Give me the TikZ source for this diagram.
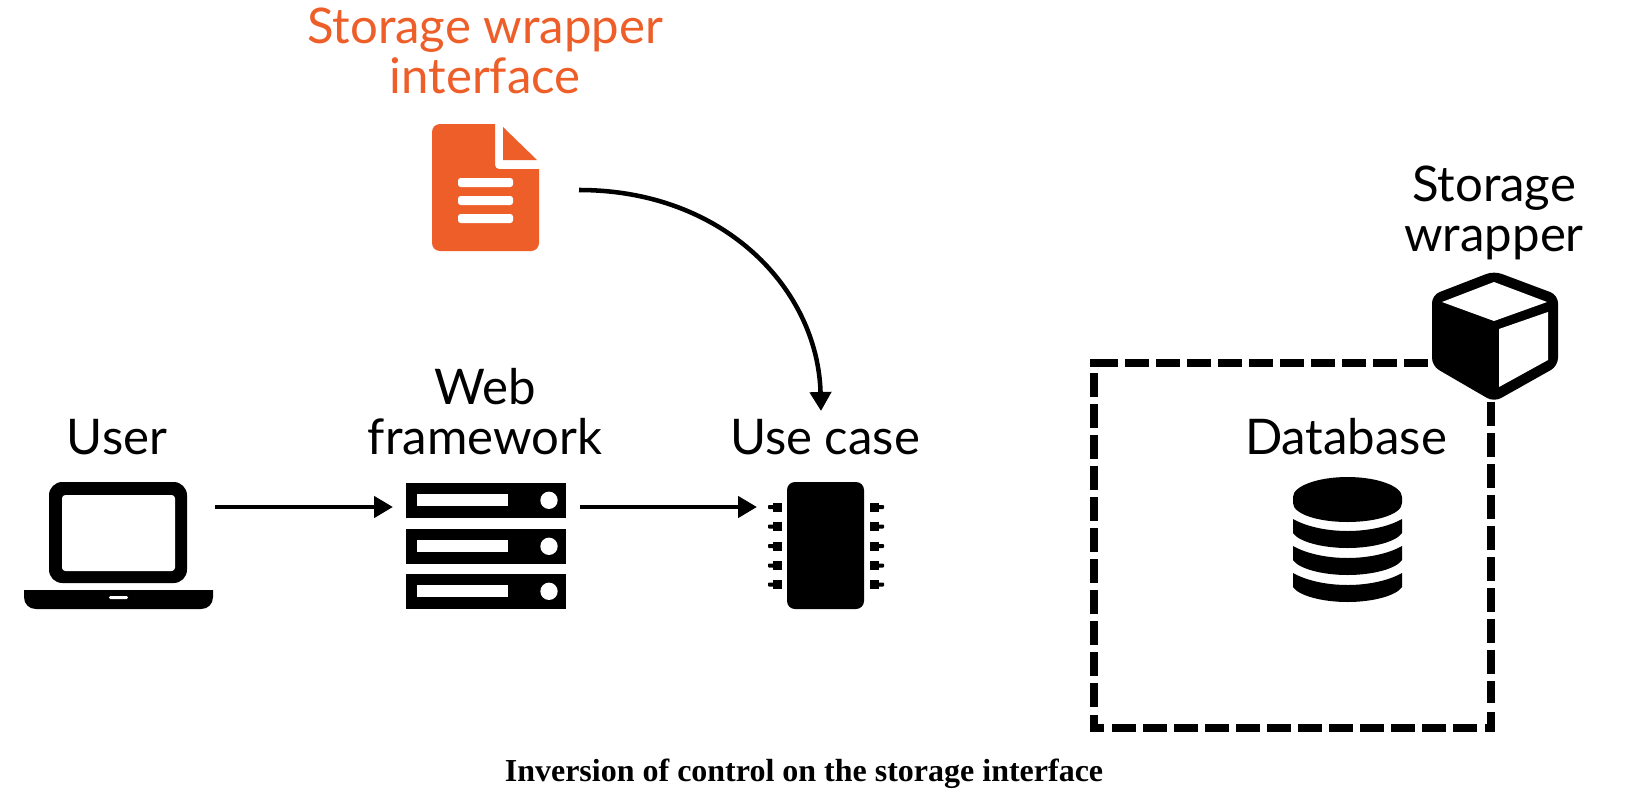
\documentclass[tikz,border=0pt]{standalone}
\usepackage{fontspec}
\setmainfont{Lato}
\newfontfamily\capfont{Liberation Serif}
\usetikzlibrary{arrows.meta}
\definecolor{docorange}{RGB}{238,94,40}
\tikzset{
  px/.style={x=0.75pt,y=-0.75pt},
  label/.style={font=\fontsize{36.85}{37.5}\selectfont,align=center,inner sep=0pt,outer sep=0pt,anchor=base,text=black},
  orangelabel/.style={label,text=docorange},
  iconbox/.style={inner sep=0pt,outer sep=0pt,minimum width=#1},
  arr/.style={line width=3.4pt,-{Triangle[length=14.25pt,width=15.75pt]}},
  dashline/.style={line width=6pt,dash pattern=on 17.625pt off 5.625pt},
  cornerline/.style={line width=6pt,miter limit=10},
}
\begin{document}
\begin{tikzpicture}[px]
\useasboundingbox (0,0) rectangle (1628,800);
\fill[white] (0,0) rectangle (1628,800);
% anchors (invisible icon extents)
\node[iconbox=143.25pt,minimum height=95.25pt] (laptop) at (119.5,545.5) {};
\node[iconbox=120pt,minimum height=93.75pt] (server) at (486,545.5) {};
\node[iconbox=87pt,minimum height=95.25pt] (chip) at (826,545.5) {};
\node[iconbox=80.25pt,minimum height=91.5pt] (doc) at (485.5,190) {};
\coordinate (row) at (0,507);
\coordinate (docport) at (579,190);
\coordinate (ucport) at (821,411);
% labels
\node[orangelabel] (ifacelabel) at (485,93) {Storage wrapper\\interface};
\node[label] (userlabel) at (117,454) {User};
\node[label] (weblabel) at (485,454) {Web\\framework};
\node[label] (uclabel) at (825,454) {Use case};
\node[label] (dblabel) at (1346,454) {Database};
\node[label] (wraplabel) at (1494,251) {Storage\\wrapper};
\node[inner sep=0pt,anchor=base,font=\capfont\bfseries\fontsize{24}{26}\selectfont] (caption) at (804,781) {Inversion of control on the storage interface};
% laptop
\fill[rounded corners=10pt] (49,482) rectangle (187,583);
\fill[white,rounded corners=2.5pt] (62,495) rectangle (175,571);
\fill (24,590) -- (213,590) -- (213,597) .. controls (213,604) and (208,609) .. (201,609) -- (36,609) .. controls (29,609) and (24,604) .. (24,597) -- cycle;
\fill[white,rounded corners=1pt] (109,596) rectangle (128,599);
% server
\foreach \yy in {483,529,574}{
  \fill (406,\yy) rectangle (566,\yy+34.5);
  \fill[white] (417,\yy+11.3) rectangle (508,\yy+23);
  \fill[white] (549,\yy+17.3) circle[radius=6.5pt];
}
% chip
\fill[rounded corners=6pt] (787,482) rectangle (864,609);
\foreach \yy in {507,526.5,546,565.5,584.5}{
  \fill (782,\yy-4.5) rectangle (773,\yy+4.5);
  \fill[rounded corners=0.7pt] (775,\yy-2) rectangle (768,\yy+2);
  \fill (870,\yy-4.5) rectangle (879,\yy+4.5);
  \fill[rounded corners=0.7pt] (877,\yy-2) rectangle (884,\yy+2);
}
% document
\fill[docorange] (495,124) [rounded corners=6pt] -- (432,124) -- (432,251) -- (539,251) [sharp corners] -- (539,169) [rounded corners=3pt] -- (495,169) [sharp corners] -- cycle;
\fill[docorange] (503,127) -- (537,160) -- (503,160) -- cycle;
\foreach \yy in {178,196,214}{
  \fill[white,rounded corners=2pt] (458,\yy) rectangle (513,\yy+9);
}
% database
\fill (1293,497) .. controls (1293,486) and (1318,477) .. (1347.5,477) .. controls (1377,477) and (1402,486) .. (1402,497) -- (1402,503) .. controls (1402,514) and (1377,522) .. (1347.5,522) .. controls (1318,522) and (1293,514) .. (1293,503) -- cycle;
\foreach \dd in {0,27,54}{
  \fill[shift={(0,\dd)}] (1293,519) .. controls (1307,527) and (1328,531) .. (1347.5,531) .. controls (1367,531) and (1388,527) .. (1402,519) -- (1402,533) .. controls (1396,542) and (1372,548) .. (1347.5,548) .. controls (1323,548) and (1299,542) .. (1293,533) -- cycle;
}
% dashed box
\draw[dashline] (1125,363) -- (1428,363);
\draw[dashline] (1094,373) -- (1094,707);
\draw[dashline] (1112,728) -- (1477,728);
\draw[dashline] (1491,402) -- (1491,703);
\draw[cornerline] (1118,363) -- (1094,363) -- (1094,367);
\draw[cornerline] (1094,715) -- (1094,728) -- (1104,728);
\draw[cornerline] (1485,728) -- (1491,728) -- (1491,712);
% cube
\fill[rounded corners=6pt] (1494,271) -- (1558,295) -- (1558,366) -- (1494,402) -- (1432,366) -- (1432,295) -- cycle;
\fill[white] (1442,302) -- (1494,282) -- (1547,302) -- (1494,321) -- cycle;
\fill[white] (1499,329) -- (1548,312) -- (1548,360) -- (1499,387) -- cycle;
% connectors
\draw[arr,shorten >=9.75pt] (laptop.east |- row) -- (server.west |- row);
\draw[arr,shorten <=10.5pt,shorten >=8.25pt] (server.east |- row) -- (chip.west |- row);
\draw[arr] (docport) .. controls (725,190) and (818,290) .. (ucport);
\end{tikzpicture}
\end{document}
